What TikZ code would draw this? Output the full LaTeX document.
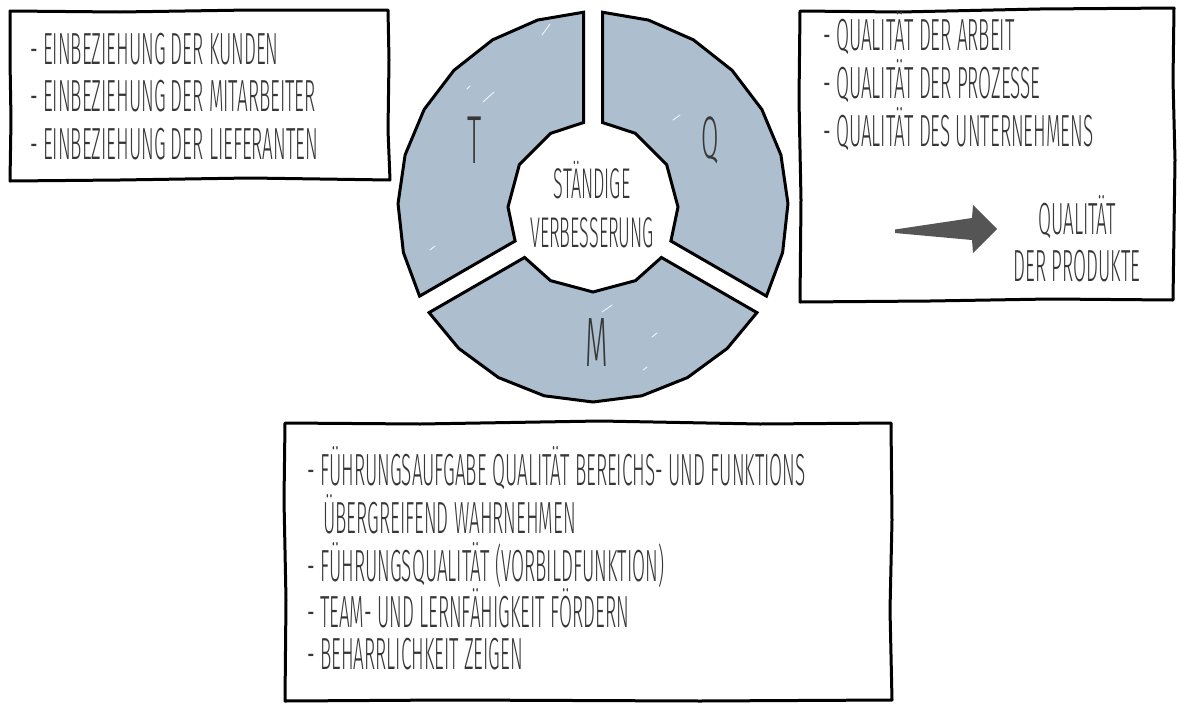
\documentclass[tikz,border=0pt]{standalone}
\usepackage{fontspec}
\usetikzlibrary{calc}
\IfFontExistsTF{Fira Sans Light}
  {\newfontfamily\handfont[FakeStretch=0.42]{Fira Sans Light}}
  {\newfontfamily\handfont[FakeStretch=0.42]{Fira Sans}}
\definecolor{ringblue}{RGB}{173,191,207}
\definecolor{ringshade}{RGB}{138,163,188}
\definecolor{inkgray}{RGB}{55,55,55}
\definecolor{arrowgray}{RGB}{85,85,85}

% ring geometry (picture units = 1pt, y pointing down)
\def\Rout{195}   % outer radius
\def\Ro{194.77}  % outer radius reduced by the gap offset
\def\rin{85}     % inner radius
\def\ri{84.47}   % inner radius reduced by the gap offset
\def\gap{9.5}    % half width of the gaps between the segments

% one ring segment centred on angle #1 (clockwise, screen sense)
\newcommand\ringseg[1]{%
  ($(O)+({#1-60}:\Ro)+({#1+30}:\gap)$)
  \foreach \k in {-3,...,3}{ -- ($(O)+({#1+14.5*\k}:\Rout)$) }
  -- ($(O)+({#1+60}:\Ro)+({#1-30}:\gap)$)
  -- ($(O)+({#1+60}:\ri)+({#1-30}:\gap)$)
  \foreach \k in {1,0,-1}{ -- ($(O)+({#1+30*\k}:\rin)$) }
  -- ($(O)+({#1-60}:\ri)+({#1+30}:\gap)$) -- cycle}

\tikzset{
  linetext/.style={font=\handfont\fontsize{45}{48}\selectfont, text=inkgray,
    inner sep=0pt, anchor=base west},
  segletter/.style={font=\handfont\fontsize{68}{70}\selectfont, text=inkgray,
    inner sep=0pt},
  centretext/.style={font=\handfont\fontsize{43}{49}\selectfont, text=inkgray,
    inner sep=0pt, align=center},
  sketch/.style={draw=black, line width=3pt, line join=round, line cap=round},
  segment/.style={fill=ringblue, draw=black, line width=3pt, line join=miter},
  segshade/.style={fill=ringshade, opacity=0.9},
  glint/.style={draw=white, line width=0.9pt, line cap=round, opacity=0.85},
}

\begin{document}
\begin{tikzpicture}[x=1pt, y=-1pt]
\useasboundingbox (0,0) rectangle (1180,704);
\fill[white] (0,0) rectangle (1180,704);

\coordinate (O) at (593,207);

% brush shadow behind the ring
\fill[segshade, shift={(-4,-3)}] \ringseg{210};
\fill[segshade, shift={(2,-2)}] \ringseg{-30};
\fill[segshade, shift={(4,4)}] \ringseg{90};

% the three segments
\draw[segment] \ringseg{210};
\draw[segment] \ringseg{-30};
\draw[segment] \ringseg{90};

% light glints on the paint
\draw[glint] (542,35) -- (550,24);
\draw[glint] (483,102) -- (494,92);
\draw[glint] (467,89) -- (470,86);
\draw[glint] (430,250) -- (435,246);
\draw[glint] (673,120) -- (680,115);
\draw[glint] (602,312) -- (612,305);
\draw[glint] (652,337) -- (657,333);
\draw[glint] (643,370) -- (647,367);

\node[segletter] (segT) at (475,140) {T};
\node[segletter, font=\handfont\fontsize{60}{62}\selectfont] (segQ) at (710,140) {Q};
\node[segletter, font=\handfont\fontsize{70}{72}\selectfont] (segM) at (597,343) {M};
\node[centretext] (centre) at (592,205) {STÄNDIGE\\VERBESSERUNG};

% box: involvement
\draw[sketch] (10,11) -- (120,12) -- (250,10) -- (388,10) -- (389,60)
  -- (388,130) -- (390,180) -- (250,178) -- (120,180) -- (10,181)
  -- (11,120) -- (10,60) -- cycle;
\node[linetext] (kunden) at (30,64) {- EINBEZIEHUNG DER KUNDEN};
\node[linetext] (mitarb) at (30,111) {- EINBEZIEHUNG DER MITARBEITER};
\node[linetext] (liefer) at (30,159) {- EINBEZIEHUNG DER LIEFERANTEN};

% box: quality
\draw[sketch] (800,11) -- (900,12) -- (1040,9) -- (1174,8) -- (1173,80)
  -- (1175,160) -- (1173,300) -- (1050,299) -- (930,301) -- (800,302)
  -- (801,200) -- (799,100) -- cycle;
\node[linetext] (arbeit) at (823,50) {- QUALITÄT DER ARBEIT};
\node[linetext] (prozesse) at (823,98) {- QUALITÄT DER PROZESSE};
\node[linetext] (untern) at (823,146) {- QUALITÄT DES UNTERNEHMENS};
\node[centretext, font=\handfont\fontsize{45}{47}\selectfont] (produkte) at (1077,239) {QUALITÄT\\DER PRODUKTE};

% arrow towards product quality
\coordinate (arrtail) at (895,231);
\coordinate (arrtip) at (997,229);
\fill[arrowgray] ($(arrtail)+(0,-1.5)$) -- (972,218) -- (973,205) -- (arrtip)
  -- (973,253) -- (972,240) -- ($(arrtail)+(0,2)$) -- cycle;

% box: leadership
\draw[sketch] (285,423) -- (420,424) -- (600,421) -- (760,424) -- (891,423)
  -- (892,520) -- (890,610) -- (892,700) -- (700,701) -- (450,700)
  -- (285,701) -- (286,600) -- (284,500) -- cycle;
\node[linetext] (fa) at (307,485) {- FÜHRUNGSAUFGABE QUALITÄT BEREICHS- UND FUNKTIONS};
\node[linetext] (fb) at (323,533) {ÜBERGREIFEND WAHRNEHMEN};
\node[linetext] (fc) at (307,581) {- FÜHRUNGSQUALITÄT (VORBILDFUNKTION)};
\node[linetext] (fd) at (307,627) {- TEAM- UND LERNFÄHIGKEIT FÖRDERN};
\node[linetext] (fe) at (307,669) {- BEHARRLICHKEIT ZEIGEN};
\end{tikzpicture}
\end{document}
